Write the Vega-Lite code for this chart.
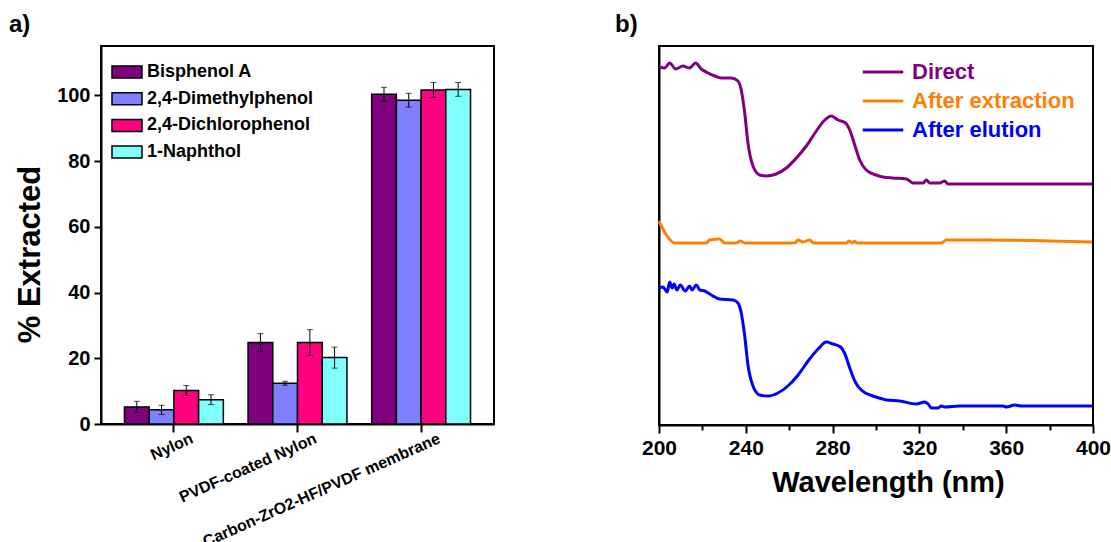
{
  "$schema": "https://vega.github.io/schema/vega-lite/v6.json",
  "background": "white",
  "padding": {"left": 8, "top": 12, "right": 0, "bottom": 0},
  "spacing": 118,
  "resolve": {"scale": {"fill": "independent", "stroke": "independent"}},
  "hconcat": [
    {
      "width": 393,
      "height": 378,
      "title": {"text": "a)", "anchor": "start", "frame": "group", "dx": -92, "offset": 8},
      "data": {"values": [
        {"material": "Nylon", "compound": "Bisphenol A", "value": 5.2, "err": 1.7},
        {"material": "Nylon", "compound": "2,4-Dimethylphenol", "value": 4.3, "err": 1.4},
        {"material": "Nylon", "compound": "2,4-Dichlorophenol", "value": 10.2, "err": 1.5},
        {"material": "Nylon", "compound": "1-Naphthol", "value": 7.4, "err": 1.5},
        {"material": "PVDF-coated Nylon", "compound": "Bisphenol A", "value": 24.8, "err": 2.7},
        {"material": "PVDF-coated Nylon", "compound": "2,4-Dimethylphenol", "value": 12.4, "err": 0.6},
        {"material": "PVDF-coated Nylon", "compound": "2,4-Dichlorophenol", "value": 24.8, "err": 3.9},
        {"material": "PVDF-coated Nylon", "compound": "1-Naphthol", "value": 20.2, "err": 3.2},
        {"material": "Carbon-ZrO2-HF/PVDF membrane", "compound": "Bisphenol A", "value": 100.3, "err": 2.1},
        {"material": "Carbon-ZrO2-HF/PVDF membrane", "compound": "2,4-Dimethylphenol", "value": 98.5, "err": 2.1},
        {"material": "Carbon-ZrO2-HF/PVDF membrane", "compound": "2,4-Dichlorophenol", "value": 101.6, "err": 2.3},
        {"material": "Carbon-ZrO2-HF/PVDF membrane", "compound": "1-Naphthol", "value": 101.8, "err": 2.1}
      ]},
      "layer": [
        {
          "mark": {"type": "bar", "stroke": "black", "strokeWidth": 1.5},
          "encoding": {
            "x": {
              "field": "material", "type": "nominal",
              "sort": ["Nylon", "PVDF-coated Nylon", "Carbon-ZrO2-HF/PVDF membrane"],
              "scale": {"paddingInner": 0.2, "paddingOuter": 0.19},
              "axis": {"orient": "bottom", "title": null, "labelAngle": -24, "labelAlign": "right", "labelBaseline": "top", "labelOffset": 15, "labelPadding": -2, "tickSize": 8, "labelFontSize": 16, "labelLimit": 500}
            },
            "xOffset": {"field": "compound", "type": "nominal", "sort": ["Bisphenol A", "2,4-Dimethylphenol", "2,4-Dichlorophenol", "1-Naphthol"]},
            "y": {
              "field": "value", "type": "quantitative", "title": "% Extracted",
              "scale": {"domain": [0, 115], "nice": false},
              "axis": {
                "orient": "left",
                "title": "% Extracted", "titleFontSize": 31, "titlePadding": 10, "titleY": 208,
                "values": [0, 10, 20, 30, 40, 50, 60, 70, 80, 90, 100, 110],
                "labelExpr": "datum.value % 20 === 0 ? datum.label : ''",
                "tickSize": {"condition": {"test": "datum.value % 20 === 0", "value": 7}, "value": 4},
                "labelFontSize": 20, "labelPadding": 4
              }
            },
            "fill": {
              "field": "compound", "type": "nominal",
              "scale": {"domain": ["Bisphenol A", "2,4-Dimethylphenol", "2,4-Dichlorophenol", "1-Naphthol"], "range": ["#800080", "#8080FF", "#FF0080", "#80FFFF"]},
              "legend": {
                "title": null, "orient": "none", "legendX": 10, "legendY": 10, "padding": 0,
                "symbolType": "M-1,-0.4L1,-0.4L1,0.4L-1,0.4Z", "symbolSize": 900,
                "symbolStrokeColor": "black", "symbolStrokeWidth": 1.5, "symbolOpacity": 1,
                "labelFontSize": 18, "labelOffset": 4, "rowPadding": 1.7
              }
            }
          }
        },
        {
          "mark": {"type": "errorbar", "ticks": {"size": 6, "color": "black"}, "rule": {"color": "black", "strokeWidth": 1}},
          "encoding": {
            "x": {"field": "material", "type": "nominal", "sort": ["Nylon", "PVDF-coated Nylon", "Carbon-ZrO2-HF/PVDF membrane"]},
            "xOffset": {"field": "compound", "type": "nominal", "sort": ["Bisphenol A", "2,4-Dimethylphenol", "2,4-Dichlorophenol", "1-Naphthol"]},
            "y": {"field": "value", "type": "quantitative", "title": "% Extracted"},
            "yError": {"field": "err"}
          }
        },
        {
          "data": {"values": [{}]},
          "mark": {"type": "rule", "color": "black", "strokeWidth": 2},
          "encoding": {"y": {"datum": 115, "type": "quantitative", "title": "% Extracted"}}
        },
        {
          "data": {"values": [{}]},
          "mark": {"type": "rule", "color": "black", "strokeWidth": 2},
          "encoding": {"x": {"value": "width"}}
        }
      ]
    },
    {
      "width": 434,
      "height": 379,
      "title": {"text": "b)", "anchor": "start", "frame": "group", "dx": -44, "offset": 8},
      "layer": [
        {
          "data": {"values": [
            {"series": "Direct", "wavelength": 200, "absorbance": 3.58},
            {"series": "Direct", "wavelength": 202.6, "absorbance": 3.57},
            {"series": "Direct", "wavelength": 204.9, "absorbance": 3.62},
            {"series": "Direct", "wavelength": 207.7, "absorbance": 3.56},
            {"series": "Direct", "wavelength": 211, "absorbance": 3.59},
            {"series": "Direct", "wavelength": 214, "absorbance": 3.57},
            {"series": "Direct", "wavelength": 216.9, "absorbance": 3.62},
            {"series": "Direct", "wavelength": 219.5, "absorbance": 3.56},
            {"series": "Direct", "wavelength": 222.6, "absorbance": 3.52},
            {"series": "Direct", "wavelength": 225.7, "absorbance": 3.49},
            {"series": "Direct", "wavelength": 228.7, "absorbance": 3.47},
            {"series": "Direct", "wavelength": 233.3, "absorbance": 3.47},
            {"series": "Direct", "wavelength": 236.4, "absorbance": 3.44},
            {"series": "Direct", "wavelength": 237.9, "absorbance": 3.35},
            {"series": "Direct", "wavelength": 239.5, "absorbance": 3.12},
            {"series": "Direct", "wavelength": 241, "absorbance": 2.82},
            {"series": "Direct", "wavelength": 243.3, "absorbance": 2.59},
            {"series": "Direct", "wavelength": 246.4, "absorbance": 2.5},
            {"series": "Direct", "wavelength": 249.4, "absorbance": 2.49},
            {"series": "Direct", "wavelength": 254, "absorbance": 2.51},
            {"series": "Direct", "wavelength": 258.7, "absorbance": 2.57},
            {"series": "Direct", "wavelength": 263.3, "absorbance": 2.67},
            {"series": "Direct", "wavelength": 267.9, "absorbance": 2.79},
            {"series": "Direct", "wavelength": 272.5, "absorbance": 2.94},
            {"series": "Direct", "wavelength": 276.4, "absorbance": 3.05},
            {"series": "Direct", "wavelength": 279.4, "absorbance": 3.09},
            {"series": "Direct", "wavelength": 282.5, "absorbance": 3.05},
            {"series": "Direct", "wavelength": 286, "absorbance": 3.02},
            {"series": "Direct", "wavelength": 287.9, "absorbance": 2.95},
            {"series": "Direct", "wavelength": 290.2, "absorbance": 2.8},
            {"series": "Direct", "wavelength": 292.5, "absorbance": 2.65},
            {"series": "Direct", "wavelength": 295.5, "absorbance": 2.55},
            {"series": "Direct", "wavelength": 300.1, "absorbance": 2.5},
            {"series": "Direct", "wavelength": 303.2, "absorbance": 2.48},
            {"series": "Direct", "wavelength": 307.8, "absorbance": 2.47},
            {"series": "Direct", "wavelength": 314, "absorbance": 2.46},
            {"series": "Direct", "wavelength": 317, "absorbance": 2.42},
            {"series": "Direct", "wavelength": 321.7, "absorbance": 2.42},
            {"series": "Direct", "wavelength": 323.2, "absorbance": 2.45},
            {"series": "Direct", "wavelength": 324.8, "absorbance": 2.42},
            {"series": "Direct", "wavelength": 329.3, "absorbance": 2.42},
            {"series": "Direct", "wavelength": 331.6, "absorbance": 2.44},
            {"series": "Direct", "wavelength": 333.2, "absorbance": 2.41},
            {"series": "Direct", "wavelength": 400, "absorbance": 2.41},
            {"series": "After extraction", "wavelength": 200, "absorbance": 2.04},
            {"series": "After extraction", "wavelength": 203.4, "absorbance": 1.9},
            {"series": "After extraction", "wavelength": 207.2, "absorbance": 1.82},
            {"series": "After extraction", "wavelength": 221.8, "absorbance": 1.82},
            {"series": "After extraction", "wavelength": 223.3, "absorbance": 1.85},
            {"series": "After extraction", "wavelength": 227.9, "absorbance": 1.86},
            {"series": "After extraction", "wavelength": 230.3, "absorbance": 1.82},
            {"series": "After extraction", "wavelength": 235.6, "absorbance": 1.82},
            {"series": "After extraction", "wavelength": 237.5, "absorbance": 1.84},
            {"series": "After extraction", "wavelength": 239.5, "absorbance": 1.82},
            {"series": "After extraction", "wavelength": 262.5, "absorbance": 1.82},
            {"series": "After extraction", "wavelength": 264.1, "absorbance": 1.85},
            {"series": "After extraction", "wavelength": 266.4, "absorbance": 1.83},
            {"series": "After extraction", "wavelength": 269.4, "absorbance": 1.85},
            {"series": "After extraction", "wavelength": 271.3, "absorbance": 1.82},
            {"series": "After extraction", "wavelength": 286.3, "absorbance": 1.82},
            {"series": "After extraction", "wavelength": 287.6, "absorbance": 1.84},
            {"series": "After extraction", "wavelength": 289, "absorbance": 1.82},
            {"series": "After extraction", "wavelength": 290, "absorbance": 1.84},
            {"series": "After extraction", "wavelength": 291.2, "absorbance": 1.82},
            {"series": "After extraction", "wavelength": 330.1, "absorbance": 1.82},
            {"series": "After extraction", "wavelength": 332.4, "absorbance": 1.85},
            {"series": "After extraction", "wavelength": 350.8, "absorbance": 1.85},
            {"series": "After extraction", "wavelength": 400, "absorbance": 1.83},
            {"series": "After elution", "wavelength": 200, "absorbance": 1.37},
            {"series": "After elution", "wavelength": 201.8, "absorbance": 1.38},
            {"series": "After elution", "wavelength": 203.8, "absorbance": 1.33},
            {"series": "After elution", "wavelength": 204.9, "absorbance": 1.43},
            {"series": "After elution", "wavelength": 206.1, "absorbance": 1.37},
            {"series": "After elution", "wavelength": 206.9, "absorbance": 1.41},
            {"series": "After elution", "wavelength": 208.3, "absorbance": 1.35},
            {"series": "After elution", "wavelength": 209.8, "absorbance": 1.4},
            {"series": "After elution", "wavelength": 212.1, "absorbance": 1.34},
            {"series": "After elution", "wavelength": 214.1, "absorbance": 1.39},
            {"series": "After elution", "wavelength": 215.2, "absorbance": 1.35},
            {"series": "After elution", "wavelength": 217.2, "absorbance": 1.4},
            {"series": "After elution", "wavelength": 218.8, "absorbance": 1.35},
            {"series": "After elution", "wavelength": 221.1, "absorbance": 1.34},
            {"series": "After elution", "wavelength": 224.1, "absorbance": 1.3},
            {"series": "After elution", "wavelength": 228, "absorbance": 1.26},
            {"series": "After elution", "wavelength": 234.1, "absorbance": 1.25},
            {"series": "After elution", "wavelength": 236.4, "absorbance": 1.22},
            {"series": "After elution", "wavelength": 237.9, "absorbance": 1.12},
            {"series": "After elution", "wavelength": 239.5, "absorbance": 0.89},
            {"series": "After elution", "wavelength": 241, "absorbance": 0.6},
            {"series": "After elution", "wavelength": 243.3, "absorbance": 0.39},
            {"series": "After elution", "wavelength": 246.4, "absorbance": 0.3},
            {"series": "After elution", "wavelength": 250.2, "absorbance": 0.29},
            {"series": "After elution", "wavelength": 254.8, "absorbance": 0.32},
            {"series": "After elution", "wavelength": 259.4, "absorbance": 0.39},
            {"series": "After elution", "wavelength": 264.1, "absorbance": 0.5},
            {"series": "After elution", "wavelength": 268.7, "absorbance": 0.64},
            {"series": "After elution", "wavelength": 273.3, "absorbance": 0.76},
            {"series": "After elution", "wavelength": 277.1, "absorbance": 0.83},
            {"series": "After elution", "wavelength": 280.2, "absorbance": 0.81},
            {"series": "After elution", "wavelength": 283.7, "absorbance": 0.78},
            {"series": "After elution", "wavelength": 285.5, "absorbance": 0.72},
            {"series": "After elution", "wavelength": 287.9, "absorbance": 0.57},
            {"series": "After elution", "wavelength": 290.2, "absorbance": 0.44},
            {"series": "After elution", "wavelength": 293.2, "absorbance": 0.35},
            {"series": "After elution", "wavelength": 298.6, "absorbance": 0.29},
            {"series": "After elution", "wavelength": 303.2, "absorbance": 0.26},
            {"series": "After elution", "wavelength": 304.8, "absorbance": 0.25},
            {"series": "After elution", "wavelength": 310.9, "absorbance": 0.24},
            {"series": "After elution", "wavelength": 318.6, "absorbance": 0.21},
            {"series": "After elution", "wavelength": 322.4, "absorbance": 0.23},
            {"series": "After elution", "wavelength": 324, "absorbance": 0.21},
            {"series": "After elution", "wavelength": 325.5, "absorbance": 0.17},
            {"series": "After elution", "wavelength": 328.6, "absorbance": 0.17},
            {"series": "After elution", "wavelength": 330.1, "absorbance": 0.19},
            {"series": "After elution", "wavelength": 331.6, "absorbance": 0.18},
            {"series": "After elution", "wavelength": 338.6, "absorbance": 0.19},
            {"series": "After elution", "wavelength": 358.5, "absorbance": 0.19},
            {"series": "After elution", "wavelength": 360.1, "absorbance": 0.18},
            {"series": "After elution", "wavelength": 363.9, "absorbance": 0.2},
            {"series": "After elution", "wavelength": 367, "absorbance": 0.19},
            {"series": "After elution", "wavelength": 400, "absorbance": 0.19}
          ]},
          "mark": {"type": "line", "strokeWidth": 3, "interpolate": "monotone"},
          "encoding": {
            "x": {
              "field": "wavelength", "type": "quantitative",
              "scale": {"domain": [200, 400], "nice": false},
              "axis": {
                "orient": "bottom",
                "title": "Wavelength (nm)", "titleFontSize": 29, "titlePadding": 10, "titleX": 229,
                "values": [200, 220, 240, 260, 280, 300, 320, 340, 360, 380, 400],
                "labelExpr": "datum.value % 40 === 0 ? datum.label : ''",
                "tickSize": {"condition": {"test": "datum.value % 40 === 0", "value": 8}, "value": 5},
                "labelFontSize": 21, "labelPadding": 4, "labelFlush": false, "labelOverlap": false
              }
            },
            "y": {"field": "absorbance", "type": "quantitative", "scale": {"domain": [0, 3.79], "nice": false}, "axis": {"orient": "left", "title": null, "labels": false, "ticks": false}},
            "stroke": {
              "field": "series", "type": "nominal",
              "scale": {"domain": ["Direct", "After extraction", "After elution"], "range": ["#800080", "#FF8000", "#0000FF"]},
              "legend": {
                "title": null, "orient": "none", "legendX": 212, "legendY": 14, "padding": 0,
                "symbolType": "M-2,0L2,0", "symbolSize": 412, "symbolStrokeWidth": 3,
                "labelFontSize": 22, "labelOffset": 17, "rowPadding": 6,
                "encode": {"labels": {"update": {"fill": {"signal": "datum.value === 'Direct' ? '#800080' : datum.value === 'After extraction' ? '#FF8000' : '#0000FF'"}}}}
              }
            }
          }
        },
        {
          "data": {"values": [{}]},
          "mark": {"type": "rule", "color": "black", "strokeWidth": 2},
          "encoding": {"y": {"datum": 3.79, "type": "quantitative", "title": null}}
        },
        {
          "data": {"values": [{}]},
          "mark": {"type": "rule", "color": "black", "strokeWidth": 2},
          "encoding": {"x": {"datum": 400, "type": "quantitative", "title": "Wavelength (nm)"}}
        }
      ]
    }
  ],
  "config": {
    "font": "Liberation Sans",
    "view": {"stroke": "black", "strokeWidth": 2},
    "title": {"font": "Liberation Sans", "fontSize": 24, "fontWeight": "bold", "color": "black"},
    "axis": {
      "grid": false, "domainColor": "black", "domainWidth": 2, "tickColor": "black", "tickWidth": 2,
      "labelFont": "Liberation Sans", "labelFontWeight": "bold", "labelColor": "black",
      "titleFont": "Liberation Sans", "titleFontWeight": "bold", "titleColor": "black"
    },
    "legend": {"labelFont": "Liberation Sans", "labelFontWeight": "bold", "labelColor": "black", "labelLimit": 400}
  }
}
